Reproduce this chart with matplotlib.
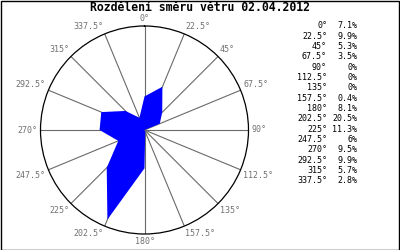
import numpy as np
import matplotlib
matplotlib.use("Agg")
import matplotlib.pyplot as plt
from matplotlib.patches import Rectangle

title = "Rozdělení směru větru 02.04.2012"
directions = [0, 22.5, 45, 67.5, 90, 112.5, 135, 157.5,
              180, 202.5, 225, 247.5, 270, 292.5, 315, 337.5]
dir_labels = ["0°", "22.5°", "45°", "67.5°", "90°", "112.5°", "135°", "157.5°",
              "180°", "202.5°", "225°", "247.5°", "270°", "292.5°", "315°", "337.5°"]
percent = [7.1, 9.9, 5.3, 3.5, 0, 0, 0, 0.4,
           8.1, 20.5, 11.3, 6, 9.5, 9.9, 5.7, 2.8]
pct_labels = ["7.1%", "9.9%", "5.3%", "3.5%", "0%", "0%", "0%", "0.4%",
              "8.1%", "20.5%", "11.3%", "6%", "9.5%", "9.9%", "5.7%", "2.8%"]
rmax = 22

W, H = 400, 250
fig = plt.figure(figsize=(W / 100, H / 100), dpi=100)
fig.patch.set_facecolor("white")

cx, cy, R = 144.5, 130, 104
ax = fig.add_axes([(cx - R) / W, (H - cy - R) / H, 2 * R / W, 2 * R / H],
                  projection="polar")
ax.set_theta_zero_location("N")
ax.set_theta_direction(-1)
ax.set_rlim(0, rmax)
ax.set_rticks([])
ax.yaxis.grid(False)

theta = np.deg2rad(directions)
ax.fill(theta, percent, color="#0000ff", lw=0, zorder=3)

ax.set_thetagrids(directions, [""] * len(directions))
ax.xaxis.grid(True, color="#6a6a6a", lw=0.8, ls="-")
ax.spines["polar"].set_color("black")
ax.spines["polar"].set_linewidth(0.9)
ax.set_facecolor("white")

for d, lab in zip(directions, dir_labels):
    s, c = np.sin(np.deg2rad(d)), np.cos(np.deg2rad(d))
    if abs(s) < 1e-6:
        ha = "center"
    else:
        ha = "left" if s > 0 else "right"
    if abs(c) < 1e-6:
        va = "center"
    else:
        va = "bottom" if c > 0 else "top"
    off = 2.0
    ax.annotate(lab, xy=(np.deg2rad(d), rmax), xytext=(off * s, off * c),
                textcoords="offset points", ha=ha, va=va, fontsize=6,
                color="#707070", family="DejaVu Sans Mono",
                annotation_clip=False)

fig.text(200 / W, 1 - 7.5 / H, title, ha="center", va="center", fontsize=8.3,
         fontweight="bold", family="DejaVu Sans Mono", color="black")

y0, dy = 26, 10.33
for i, (dl, pl) in enumerate(zip(dir_labels, pct_labels)):
    y = 1 - (y0 + i * dy) / H
    fig.text(327 / W, y, dl, ha="right", va="center", fontsize=6,
             family="DejaVu Sans Mono", color="black")
    fig.text(357 / W, y, pl, ha="right", va="center", fontsize=6,
             family="DejaVu Sans Mono", color="black")

fig.add_artist(Rectangle((0.5 / W, 0.5 / H), 1 - 1.5 / W, 1 - 1.5 / H,
                         transform=fig.transFigure, fill=False,
                         edgecolor="black", lw=1))

fig.savefig("out.png", dpi=100)
